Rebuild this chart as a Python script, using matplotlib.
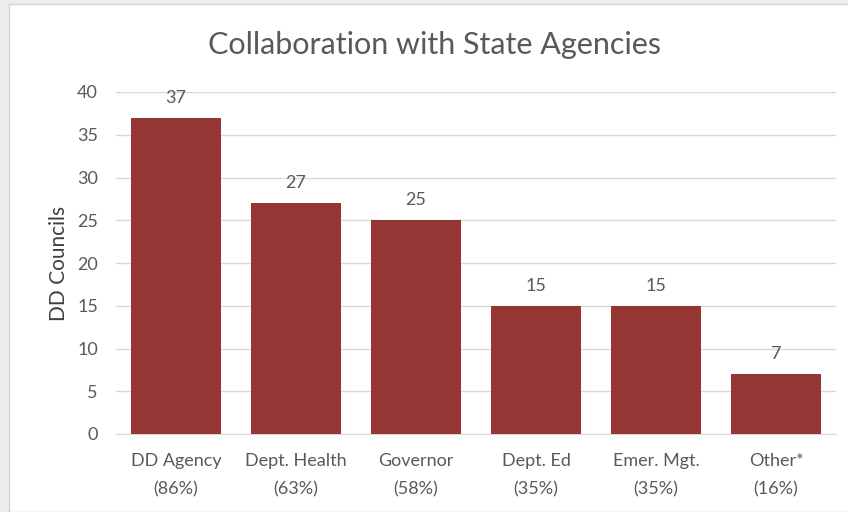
import matplotlib
matplotlib.use('Agg')
import matplotlib.pyplot as plt
from matplotlib.patches import Rectangle

# Datos
categories = ['DD Agency\n(86%)', 'Dept. Health\n(63%)', 'Governor\n(58%)',
              'Dept. Ed\n(35%)', 'Emer. Mgt.\n(35%)', 'Other*\n(16%)']
councils = [37, 27, 25, 15, 15, 7]
yticks = [0, 5, 10, 15, 20, 25, 30, 35, 40]

text_color = '#595959'
bar_color = '#943634'

plt.rcParams['font.family'] = ['Lato', 'DejaVu Sans']

fig = plt.figure(figsize=(8.48, 5.12), dpi=100, facecolor='#ececec')

# Marco blanco del grafico
fig.patches.append(Rectangle((9 / 848, 0), 1, 1 - 4 / 512, transform=fig.transFigure,
                             facecolor='white', edgecolor='#d4d4d4', linewidth=1, zorder=-10))

ax = fig.add_axes([116 / 848, 1 - 434 / 512, 720 / 848, 342 / 512])
ax.set_facecolor('none')

x = range(len(categories))
bars = ax.bar(x, councils, width=0.75, color=bar_color, zorder=3)

for xi, v in zip(x, councils):
    ax.text(xi, v + 1.4, str(v), ha='center', va='bottom', fontsize=13, color=text_color)

ax.set_xlim(-0.5, len(categories) - 0.5)
ax.set_ylim(0, 40)
ax.set_yticks(yticks)
ax.set_xticks(list(x))
ax.set_xticklabels(categories, fontsize=13, color=text_color, linespacing=1.9)
ax.tick_params(axis='y', labelsize=13, labelcolor=text_color, length=0, pad=13)
ax.tick_params(axis='x', length=0, pad=14)

ax.grid(axis='y', color='#d9d9d9', linewidth=1, zorder=0)
for s in ['top', 'right', 'left']:
    ax.spines[s].set_visible(False)
ax.spines['bottom'].set_color('#d9d9d9')

ax.set_ylabel('DD Councils', fontsize=15, color='#404040', labelpad=6)
fig.text(435 / 848, 1 - 45 / 512, 'Collaboration with State Agencies', ha='center', va='center',
         fontsize=22, color=text_color)

plt.savefig('out.png', dpi=100, facecolor=fig.get_facecolor())
